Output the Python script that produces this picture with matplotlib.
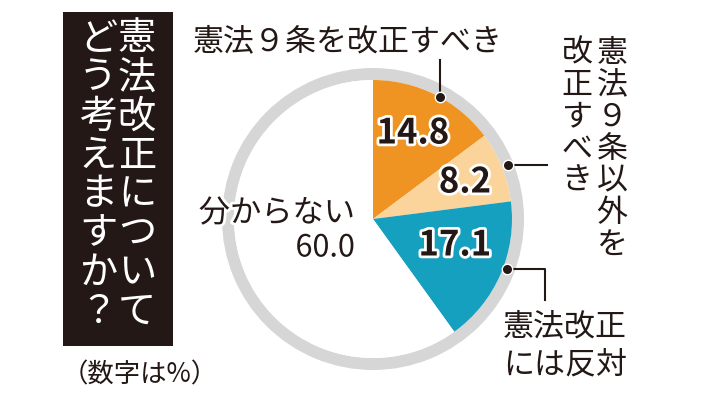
import matplotlib
matplotlib.use("Agg")
import matplotlib.pyplot as plt
from matplotlib.patches import Rectangle, Wedge
import matplotlib.patheffects as pe

plt.rcParams["font.family"] = ["Noto Sans CJK JP", "DejaVu Sans"]

# data (percent), clockwise from 12 o'clock
labels = ["憲法９条を改正すべき", "憲法９条以外を改正すべき", "憲法改正には反対", "分からない"]
values = [14.8, 8.2, 17.1, 60.0]
colors = ["#ef9422", "#fad49a", "#14a0be", "#ffffff"]
title_cols = ["憲法改正について", "どう考えますか？"]
note = "（数字は%）"

INK = "#231815"
W, H = 711, 400


def py(y):
    # pixel row (from top) -> data y
    return H - y


fig = plt.figure(figsize=(W / 100, H / 100), dpi=100)
ax = fig.add_axes([0, 0, 1, 1])
ax.set_xlim(0, W)
ax.set_ylim(0, H)
ax.set_aspect("equal")
ax.axis("off")

cx, cy, r = 373, py(219), 139

# outer grey ring
ax.add_patch(Wedge((cx, cy), 151, 0, 360, width=12, facecolor="#d6d6d6",
                   edgecolor="none"))
ax.pie(values, colors=colors, startangle=90, counterclock=False,
       center=(cx, cy), radius=r, frame=True,
       wedgeprops={"linewidth": 0, "edgecolor": "none"})
ax.set_xlim(0, W)
ax.set_ylim(0, H)
ax.axis("off")

halo = [pe.withStroke(linewidth=4, foreground="white")]

# slice values
num_pos = [(413, 133), (465, 182), (455, 245)]
for (x, y), v in zip(num_pos, values[:3]):
    ax.text(x, py(y), f"{v:.1f}", fontsize=25, fontweight="bold", color=INK,
            ha="center", va="center", path_effects=halo)

# "分からない 60.0"
ax.text(355, py(213), labels[3], fontsize=22.5, color=INK, ha="right",
        va="center", path_effects=halo)
ax.text(355, py(248), f"{values[3]:.1f}", fontsize=22, color=INK, ha="right",
        va="center", path_effects=halo)

# leader lines and dots
lw = 1.5
ax.plot([440, 440], [py(60), py(97)], color=INK, lw=lw)
ax.plot([508, 547], [py(165), py(165)], color=INK, lw=lw)
ax.plot([507, 545, 545], [py(269), py(269), py(300)], color=INK, lw=lw)
ax.plot([440, 508, 507], [py(97), py(165), py(269)], "o", color=INK,
        markersize=7.5, markeredgecolor="white", markeredgewidth=1)

# top label
ax.text(193, py(42), labels[0], fontsize=22.3, color=INK, ha="left",
        va="center")

# vertical label on the right
pitch = 32
for col_x, txt in [(612, "憲法９条以外を"), (577, "改正すべき")]:
    for i, ch in enumerate(txt):
        ax.text(col_x, py(53 + i * pitch), ch, fontsize=22.3, color=INK,
                ha="center", va="center")

# bottom-right label
ax.text(503, py(327), "憲法改正", fontsize=22.3, color=INK, ha="left",
        va="center")
ax.text(503, py(365), "には反対", fontsize=22.3, color=INK, ha="left",
        va="center")

# black title box with vertical text
ax.add_patch(Rectangle((63, py(346)), 110, 334, facecolor=INK,
                       edgecolor="none"))
tpitch = 39
for col_x, txt in zip([137, 98], title_cols):
    for i, ch in enumerate(txt):
        ax.text(col_x, py(39 + i * tpitch), ch, fontsize=27.5, color="white",
                ha="center", va="center")

ax.text(140, py(375), note, fontsize=19, color=INK, ha="center", va="center")

fig.savefig("out.png", dpi=100)
